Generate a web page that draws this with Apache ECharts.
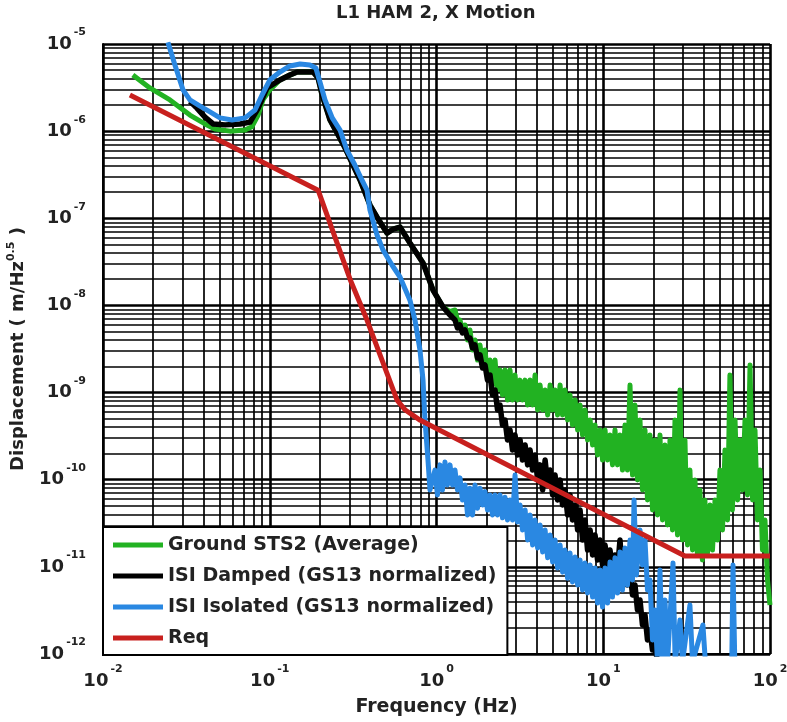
<!DOCTYPE html>
<html>
<head>
<meta charset="utf-8">
<script src="https://cdn.jsdelivr.net/npm/echarts@6/dist/echarts.min.js"></script>
<style>html,body{margin:0;padding:0;background:#fff}#c{width:787px;height:722px}</style>
</head>
<body>
<div id="c"></div>
<script>
// ---- data (frequency Hz, displacement m/Hz^0.5) ----
const chartTitle = 'L1 HAM 2, X Motion';
const seriesNames = ['Ground STS2 (Average)', 'ISI Damped (GS13 normalized)', 'ISI Isolated (GS13 normalized)', 'Req'];
const seriesColors = ['#22b222', '#000000', '#2a88e2', '#c8201e'];
const xRange = [1e-2, 1e2];
const yRange = [1e-12, 1e-5];

const groundData = [
  [0.0151,4.4e-6],[0.0191,3.13e-6],[0.0252,2.28e-6],[0.0332,1.53e-6],[0.0409,1.21e-6],[0.0469,1.06e-6],
  [0.0577,1.0e-6],[0.0711,1.03e-6],[0.0781,1.12e-6],[0.0852,1.53e-6],[0.091,2.28e-6],[0.1,2.97e-6],
  [0.115,3.86e-6],[0.132,4.4e-6],[0.146,4.77e-6],[0.182,4.77e-6],[0.195,4.07e-6],[0.206,2.6e-6],
  [0.23,1.34e-6],[0.283,6.4e-7],[0.348,2.75e-7],[0.399,1.42e-7],[0.44,1.03e-7],[0.505,6.77e-8],
  [0.55,7.5e-8],[0.604,7.94e-8],[0.693,5.2e-8],[0.83,3.07e-8],[0.953,1.5e-8],[1.094,9.59e-9],[1.2,8.5e-9],
  [1.291,8.86e-9],[1.336,6.8e-9],[1.383,6.8e-9],[1.431,5.22e-9],[1.483,5.96e-9],[1.535,4.01e-9],
  [1.588,5.22e-9],[1.644,3.08e-9],[1.702,4.01e-9],[1.762,2.36e-9],[1.824,3.52e-9],[1.888,2.07e-9],
  [1.954,3.08e-9],[2.022,1.59e-9],[2.094,2.36e-9],[2.167,1.22e-9],[2.244,2.36e-9],[2.323,1.07e-9],
  [2.404,1.82e-9],[2.488,9.37e-10],[2.576,1.82e-9],[2.666,8.22e-10],[2.76,1.82e-9],[2.857,8.22e-10],
  [2.958,1.59e-9],[3.06,8.22e-10],[3.17,1.39e-9],[3.28,8.22e-10],[3.40,1.39e-9],[3.52,7.2e-10],
  [3.64,1.39e-9],[3.77,7.2e-10],[3.90,1.59e-9],[4.04,6.31e-10],[4.18,1.22e-9],[4.33,6.31e-10],
  [4.48,1.07e-9],[4.64,5.53e-10],[4.80,1.22e-9],[4.97,6.31e-10],[5.14,1.07e-9],[5.32,5.53e-10],
  [5.51,1.22e-9],[5.70,5.53e-10],[5.90,1.07e-9],[6.11,4.84e-10],[6.32,9.37e-10],[6.54,4.24e-10],
  [6.78,8.22e-10],[7.02,3.72e-10],[7.26,7.2e-10],[7.51,3.26e-10],[7.78,6.31e-10],[8.05,2.86e-10],
  [8.34,4.84e-10],[8.63,2.5e-10],[8.93,4.24e-10],[9.24,1.92e-10],[9.57,3.72e-10],[9.90,1.68e-10],
  [10.25,3.72e-10],[10.61,1.68e-10],[10.98,3.26e-10],[11.36,1.48e-10],[11.76,3.72e-10],[12.17,1.48e-10],
  [12.60,3.26e-10],[13.04,1.29e-10],[13.50,4.24e-10],[13.97,1.29e-10],[14.47,1.22e-9],[14.98,1.13e-10],
  [15.50,7.2e-10],[16.04,9.93e-11],[16.61,4.84e-10],[17.19,7.62e-11],[17.80,3.72e-10],[18.42,5.85e-11],
  [19.07,3.26e-10],[19.74,4.49e-11],[20.43,2.86e-10],[21.15,3.94e-11],[21.89,3.26e-10],[22.66,3.45e-11],
  [23.46,2.5e-10],[24.28,3.02e-11],[25.13,2.86e-10],[26.01,2.65e-11],[26.93,4.84e-10],[27.87,2.32e-11],
  [28.85,1.07e-9],[29.86,2.03e-11],[30.9,2.86e-10],[32.0,1.78e-11],[33.1,1.29e-10],[34.3,1.56e-11],
  [35.5,9.93e-11],[36.7,1.37e-11],[38.0,7.62e-11],[39.3,1.2e-11],[40.7,5.85e-11],[42.1,1.37e-11],
  [43.7,5.13e-11],[45.2,1.56e-11],[46.8,5.85e-11],[48.4,2.03e-11],[50.1,1.29e-10],[51.9,2.65e-11],
  [53.7,2.19e-10],[55.6,3.45e-11],[57.5,1.59e-9],[59.5,4.49e-11],[61.7,4.84e-10],[63.9,5.85e-11],
  [66.1,2.86e-10],[68.4,7.62e-11],[70.8,4.84e-10],[73.3,6.68e-11],[75.9,2.07e-9],[78.6,5.85e-11],
  [81.3,3.72e-10],[84.1,3.45e-11],[87.1,1.29e-10],[90.1,1.56e-11],[93.3,3.45e-11],[96.6,7.06e-12],
  [100,3.65e-12]
];

const dampedData = [
  [0.0332,2.2e-6],[0.0366,1.84e-6],[0.0409,1.45e-6],[0.0457,1.21e-6],[0.054,1.18e-6],[0.0664,1.21e-6],
  [0.0762,1.27e-6],[0.0852,1.84e-6],[0.0963,3.13e-6],[0.115,3.86e-6],[0.132,4.4e-6],[0.146,4.77e-6],
  [0.182,4.77e-6],[0.195,4.07e-6],[0.206,2.6e-6],[0.23,1.34e-6],[0.283,6.4e-7],[0.348,2.75e-7],
  [0.399,1.42e-7],[0.44,1.03e-7],[0.505,6.77e-8],[0.55,7.5e-8],[0.604,7.94e-8],[0.693,5.2e-8],
  [0.83,3.07e-8],[0.953,1.5e-8],[1.094,9.59e-9],[1.2,7.8e-9],
  [1.291,6.8e-9],[1.336,5.5e-9],[1.383,5.96e-9],[1.431,4.83e-9],[1.483,5.22e-9],[1.535,4.23e-9],
  [1.588,4.23e-9],[1.644,3.25e-9],[1.702,3.52e-9],[1.762,2.49e-9],[1.824,2.7e-9],[1.888,1.91e-9],
  [1.954,2.07e-9],[2.022,1.39e-9],[2.094,1.59e-9],[2.167,9.37e-10],[2.244,1.07e-9],[2.323,6.31e-10],
  [2.404,7.2e-10],[2.488,4.24e-10],[2.576,4.84e-10],[2.666,2.86e-10],[2.76,3.72e-10],[2.857,2.19e-10],
  [2.958,3.26e-10],[3.06,1.92e-10],[3.17,2.86e-10],[3.28,1.68e-10],[3.40,2.5e-10],[3.52,1.48e-10],
  [3.64,2.19e-10],[3.77,1.29e-10],[3.90,1.92e-10],[4.04,9.93e-11],[4.18,1.48e-10],[4.33,7.62e-11],
  [4.48,1.68e-10],[4.64,8.7e-11],[4.80,1.29e-10],[4.97,6.68e-11],[5.14,1.13e-10],[5.32,5.85e-11],
  [5.51,9.93e-11],[5.70,5.13e-11],[5.90,7.62e-11],[6.11,3.94e-11],[6.32,6.68e-11],[6.54,3.45e-11],
  [6.78,5.13e-11],[7.02,2.65e-11],[7.26,4.49e-11],[7.51,2.03e-11],[7.78,3.45e-11],[8.05,1.56e-11],
  [8.34,2.65e-11],[8.63,1.37e-11],[8.93,2.32e-11],[9.24,1.2e-11],[9.57,2.03e-11],[9.90,1.05e-11],
  [10.25,1.78e-11],[10.61,1.05e-11],[10.98,1.56e-11],[11.36,9.2e-12],[11.76,1.37e-11],[12.17,9.2e-12],
  [12.60,2.03e-11],[13.04,8.06e-12],[13.50,1.37e-11],[13.97,6.19e-12],[14.47,9.2e-12],[14.98,4.75e-12],
  [15.50,6.19e-12],[16.04,3.2e-12],[16.61,4.17e-12],[17.19,2.15e-12],[17.80,2.8e-12],[18.42,1.45e-12],
  [19.07,1.88e-12],[19.74,1.11e-12],[20.43,1.27e-12],[21.15,8e-13]
];

const isolatedData = [
  [0.0245,1.05e-5],[0.027,5.74e-6],[0.0302,2.97e-6],[0.0332,2.28e-6],[0.0382,1.94e-6],[0.0438,1.66e-6],
  [0.0503,1.42e-6],[0.0594,1.34e-6],[0.0711,1.42e-6],[0.0816,1.75e-6],[0.0899,2.6e-6],[0.1,3.86e-6],
  [0.115,4.77e-6],[0.132,5.6e-6],[0.152,5.89e-6],[0.174,5.74e-6],[0.189,5.31e-6],[0.2,3.66e-6],
  [0.2145,2.28e-6],[0.237,1.42e-6],[0.264,1.03e-6],[0.29,6.08e-7],[0.324,4.09e-7],[0.357,2.75e-7],
  [0.383,2.11e-7],[0.399,1.24e-7],[0.44,6.43e-8],[0.478,4.32e-8],[0.541,2.91e-8],[0.604,2.12e-8],
  [0.693,1.15e-8],[0.743,6.8e-9],[0.796,3.08e-9],[0.83,1.39e-9],[0.853,4.84e-10],[0.889,1.68e-10],
  [0.914,7.62e-11],
  [0.979,1.29e-10],[1.013,6.68e-11],[1.049,1.48e-10],[1.086,7.62e-11],[1.124,1.6e-10],[1.163,8.7e-11],
  [1.205,1.48e-10],[1.247,8.7e-11],[1.291,1.29e-10],[1.336,7.62e-11],[1.383,1.05e-10],[1.431,5.85e-11],
  [1.483,8.7e-11],[1.535,3.94e-11],[1.588,8.0e-11],[1.644,3.94e-11],[1.702,8.7e-11],[1.762,4.7e-11],
  [1.824,8.0e-11],[1.888,5.13e-11],[1.954,7.3e-11],[2.022,4.49e-11],[2.094,6.68e-11],[2.167,3.94e-11],
  [2.244,6.68e-11],[2.323,3.94e-11],[2.404,6.68e-11],[2.488,3.65e-11],[2.576,6.3e-11],[2.666,3.45e-11],
  [2.76,5.85e-11],[2.857,3.45e-11],[2.958,1.13e-10],[3.06,3.27e-11],[3.17,5.13e-11],[3.28,2.65e-11],
  [3.40,4.49e-11],[3.52,2.03e-11],[3.64,3.94e-11],[3.77,1.78e-11],[3.90,3.45e-11],[4.04,1.65e-11],
  [4.18,3.02e-11],[4.33,1.48e-11],[4.48,2.65e-11],[4.64,1.27e-11],[4.80,2.32e-11],[4.97,1.14e-11],
  [5.14,2.03e-11],[5.32,9.7e-12],[5.51,1.78e-11],[5.70,8.7e-12],[5.90,1.56e-11],[6.11,7.4e-12],
  [6.32,1.44e-11],[6.54,6.7e-12],[6.78,1.3e-11],[7.02,6.19e-12],[7.26,1.2e-11],[7.51,5.42e-12],
  [7.78,1.11e-11],[8.05,5.0e-12],[8.34,1.05e-11],[8.63,4.5e-12],[8.93,9.7e-12],[9.24,3.85e-12],
  [9.57,9.2e-12],[9.90,3.46e-12],[10.25,9.7e-12],[10.61,3.85e-12],[10.98,1.14e-11],[11.36,4.5e-12],
  [11.76,1.27e-11],[12.17,5.0e-12],[12.60,1.48e-11],[13.04,5.42e-12],[13.50,1.65e-11],[13.97,6.19e-12],
  [14.47,2.03e-11],[14.98,7.06e-12],[15.3,5.85e-11],[15.8,8.06e-12],[16.61,2.65e-11],[17.19,1.05e-11],
  [17.80,2.03e-11],[18.42,5.42e-12],[19.07,7.06e-12],[19.74,1.45e-12],[20.43,3.2e-12],[21.15,8e-13],
  [21.89,9.2e-12],[22.66,8e-13],[23.46,4.17e-12],[24.28,8e-13],[26.2,1.11e-11],[27.0,8e-13],
  [28.85,2.45e-12],[29.86,8e-13],[33.1,3.65e-12],[34.3,8e-13],[39.6,2.15e-12],[41,8e-13],
  [59,8e-13],[60,1.05e-11],[61.5,8e-13],[100,8e-13]
];

const reqData = [
  [0.0145,2.6e-6],[0.195,2.1e-7],[0.303,2.0e-8],[0.383,6.8e-9],[0.58,8.2e-10],[0.65,6.3e-10],
  [0.8,4.8e-10],[12.6,3.2e-11],[30.9,1.33e-11],[100,1.33e-11]
];

// ---- chart ----
const FONT = '"DejaVu Sans", "Liberation Sans", sans-serif';
const TXT = '#222';
const supLabel = v => '{b|10}{e|' + Math.round(Math.log10(v)) + '}';
const richLabel = {
  b: {fontSize: 18, fontWeight: 'bold', fontFamily: FONT, color: TXT, lineHeight: 34},
  e: {fontSize: 11, fontWeight: 'bold', fontFamily: FONT, color: TXT, verticalAlign: 'top', lineHeight: 12, padding: [0, 0, 0, 2]}
};
const gridLine = {show: true, lineStyle: {color: '#000', width: 2.6}};
const minorGridLine = {show: true, lineStyle: {color: '#000', width: 1.7}};

const chart = echarts.init(document.getElementById('c'), null, {renderer: 'canvas'});
const allData = [groundData, dampedData, isolatedData, reqData];
chart.setOption({
  animation: false,
  backgroundColor: '#fff',
  title: {
    text: chartTitle, left: 336, top: 4, padding: 0,
    textStyle: {fontSize: 18, fontWeight: 'bold', fontFamily: FONT, color: TXT}
  },
  grid: {left: 103, right: 17, top: 44, bottom: 68, outerBoundsMode: 'none', show: false},
  legend: {
    orient: 'vertical', left: 103, top: 527,
    padding: [8, 11, 7, 10],
    itemWidth: 50, itemHeight: 5, itemGap: 11,
    icon: 'rect',
    backgroundColor: '#fff', borderColor: '#000', borderWidth: 2,
    textStyle: {fontSize: 19, fontWeight: 'bold', fontFamily: FONT, color: TXT, lineHeight: 20},
    data: seriesNames
  },
  xAxis: {
    type: 'log', logBase: 10, min: xRange[0], max: xRange[1],
    name: 'Frequency (Hz)', nameLocation: 'middle', nameGap: 44,
    nameTextStyle: {fontSize: 19, fontWeight: 'bold', fontFamily: FONT, color: TXT},
    axisLine: {show: true, lineStyle: {color: '#000', width: 2}},
    axisTick: {show: false},
    axisLabel: {formatter: supLabel, rich: richLabel, margin: 10},
    splitLine: gridLine,
    minorTick: {show: false, splitNumber: 9},
    minorSplitLine: minorGridLine
  },
  yAxis: {
    type: 'log', logBase: 10, min: yRange[0], max: yRange[1], splitNumber: 7,
    name: '{n|Displacement ( m/Hz}{s|0.5}{n| )}', nameLocation: 'middle', nameGap: 73, nameRotate: 90,
    nameTextStyle: {
      rich: {
        n: {fontSize: 18, fontWeight: 'bold', fontFamily: FONT, color: TXT, lineHeight: 24},
        s: {fontSize: 11, fontWeight: 'bold', fontFamily: FONT, color: TXT, verticalAlign: 'top', lineHeight: 12}
      }
    },
    axisLine: {show: true, lineStyle: {color: '#000', width: 2}},
    axisTick: {show: false},
    axisLabel: {formatter: supLabel, rich: richLabel, margin: 17},
    splitLine: gridLine,
    minorTick: {show: false, splitNumber: 9},
    minorSplitLine: minorGridLine
  },
  series: seriesNames.map((name, i) => ({
    name: name,
    type: 'line',
    data: allData[i],
    showSymbol: false,
    symbol: 'none',
    clip: true,
    color: seriesColors[i],
    lineStyle: {color: seriesColors[i], width: i === 1 ? 5.5 : 5, join: 'round'}
  }))
});
</script>
</body>
</html>
